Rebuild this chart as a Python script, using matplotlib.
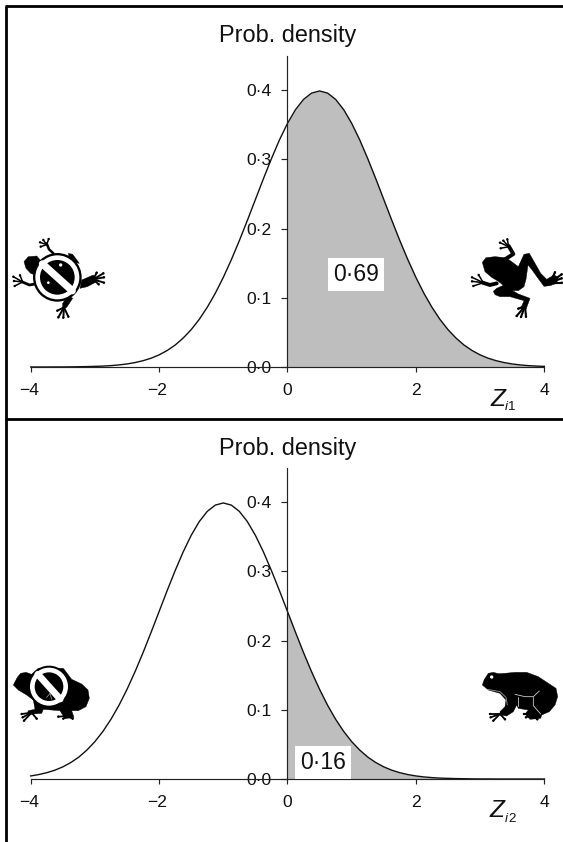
import numpy as np
import matplotlib
matplotlib.use('Agg')
import matplotlib.pyplot as plt
from matplotlib.patches import Polygon, Circle
from matplotlib.lines import Line2D
from matplotlib.transforms import Affine2D, ScaledTranslation

plt.rcParams['font.family'] = ['Liberation Sans', 'DejaVu Sans']

# ---- data
z_values = [i * 0.125 - 4 for i in range(65)]
density_z1 = [0.0000, 0.0000, 0.0000, 0.0001, 0.0001, 0.0002, 0.0004, 0.0006, 0.0009, 0.0013, 0.0020, 0.0030,
              0.0044, 0.0064, 0.0091, 0.0127, 0.0175, 0.0238, 0.0317, 0.0418, 0.0540, 0.0688, 0.0863, 0.1065, 0.1295,
              0.1550, 0.1826, 0.2119, 0.2420, 0.2721, 0.3011, 0.3282, 0.3521, 0.3719, 0.3867, 0.3958, 0.3989, 0.3958,
              0.3867, 0.3719, 0.3521, 0.3282, 0.3011, 0.2721, 0.2420, 0.2119, 0.1826, 0.1550, 0.1295, 0.1065, 0.0863,
              0.0688, 0.0540, 0.0418, 0.0317, 0.0238, 0.0175, 0.0127, 0.0091, 0.0064, 0.0044, 0.0030, 0.0020, 0.0013,
              0.0009]
density_z2 = [0.0044, 0.0064, 0.0091, 0.0127, 0.0175, 0.0238, 0.0317, 0.0418, 0.0540, 0.0688, 0.0863, 0.1065, 0.1295,
              0.1550, 0.1826, 0.2119, 0.2420, 0.2721, 0.3011, 0.3282, 0.3521, 0.3719, 0.3867, 0.3958, 0.3989, 0.3958,
              0.3867, 0.3719, 0.3521, 0.3282, 0.3011, 0.2721, 0.2420, 0.2119, 0.1826, 0.1550, 0.1295, 0.1065, 0.0863,
              0.0688, 0.0540, 0.0418, 0.0317, 0.0238, 0.0175, 0.0127, 0.0091, 0.0064, 0.0044, 0.0030, 0.0020, 0.0013,
              0.0009, 0.0006, 0.0004, 0.0002, 0.0001, 0.0001, 0.0000, 0.0000, 0.0000, 0.0000, 0.0000, 0.0000, 0.0000]
x_ticks = [-4, -2, 0, 2, 4]
x_tick_labels = ['\u22124', '\u22122', '0', '2', '4']
y_ticks = [0.0, 0.1, 0.2, 0.3, 0.4]
y_tick_labels = ['0\u00b70', '0\u00b71', '0\u00b72', '0\u00b73', '0\u00b74']
shaded_areas = ['0\u00b769', '0\u00b716']
y_axis_title = 'Prob. density'
GREY = '#bebebe'

W, H = 563, 842
fig = plt.figure(figsize=(W / 100, H / 100), dpi=100, facecolor='white')
px = Affine2D().scale(1, -1).translate(0, H)   # pixel coordinates, y down


def make_panel(density, y_zero_px):
    left, right, top = 30.7, 544.3, y_zero_px - 311
    ax = fig.add_axes([left / W, (H - y_zero_px) / H, (right - left) / W, (y_zero_px - top) / H])
    ax.patch.set_alpha(0)
    ax.set_xlim(-4, 4)
    ax.set_ylim(0, 311 / 692.0)
    x, y = np.array(z_values), np.array(density)
    ax.fill_between(x, 0, y, where=x >= 0, color=GREY, lw=0, zorder=1)
    ax.plot(x, y, color='#111111', lw=1.0, clip_on=False, zorder=3)
    for s in ('top', 'right'):
        ax.spines[s].set_visible(False)
    ax.spines['left'].set_position(('data', 0))
    for s in ('left', 'bottom'):
        ax.spines[s].set_linewidth(0.85)
        ax.spines[s].set_color('#222222')
        ax.spines[s].set_zorder(4)
    ax.set_xticks(x_ticks, x_tick_labels)
    ax.set_yticks(y_ticks, y_tick_labels)
    ax.tick_params(axis='x', length=3.4, width=0.85, pad=8.4, labelsize=12.6, color='#222222', labelcolor='#111111')
    ax.tick_params(axis='y', length=4.4, width=0.85, pad=7, labelsize=12.6, color='#222222', labelcolor='#111111')
    nudge = ScaledTranslation(-2 / 100, 0, fig.dpi_scale_trans)
    for lab in ax.get_xticklabels()[:2]:
        lab.set_transform(lab.get_transform() + nudge)
    return ax


make_panel(density_z1, 367)
make_panel(density_z2, 779)


def txt(x, y, s, **kw):
    kw.setdefault('color', '#111111')
    fig.text(x, y, s, transform=px, va='baseline', **kw)


txt(288, 42, y_axis_title, size=16.9, ha='center')
txt(288, 455, y_axis_title, size=16.9, ha='center')
txt(490.5, 406, 'Z', size=17.6, style='italic')
txt(505, 410, 'i', size=9.6, style='italic')
txt(508.2, 410, '1', size=9.6)
txt(489.5, 817, 'Z', size=17.6, style='italic')
txt(505, 822, 'i', size=9.6, style='italic')
txt(508.2, 822, '2', size=9.6)
bb = dict(fc='white', ec='none', pad=3.4)
txt(356, 281, shaded_areas[0], size=16.5, ha='center', bbox=bb, zorder=6)
txt(323, 769, shaded_areas[1], size=16.5, ha='center', bbox=bb, zorder=6)

# outer frame
for xs, ys in [((6, 6), (6, H)), ((5, W), (6, 6)), ((5, W), (419, 419))]:
    fig.add_artist(Line2D(xs, ys, transform=px, color='black', lw=2.0, solid_capstyle='butt'))


# ---- animal icons, traced in zoom coordinates (3x crop, with its origin)
def Z(org, pts):
    return [(org[0] + a / 3, org[1] + b / 3) for a, b in pts]


def poly(org, pts, color='black', z=5):
    fig.add_artist(Polygon(Z(org, pts), closed=True, fc=color, ec=color, lw=0.3, transform=px, zorder=z))


def line(org, pts, lw, color='black', z=5):
    p = Z(org, pts)
    fig.add_artist(Line2D([q[0] for q in p], [q[1] for q in p], transform=px, color=color, lw=lw,
                          solid_capstyle='round', solid_joinstyle='round', zorder=z))


def disc(org, c, r, color, z=6):
    fig.add_artist(Circle(Z(org, [c])[0], r / 3, fc=color, ec='none', transform=px, zorder=z))


def foot(org, heel, tips, lw=1.1):
    for t in tips:
        line(org, [heel, t], lw)
        disc(org, t, 3.6, 'black', 5)


def no_sign(org, c, r_out, r_white, r_in, half_bar, angle, bar_pt):
    disc(org, c, r_out, 'black', 6)
    disc(org, c, r_white, 'white', 6.1)
    disc(org, c, r_in, 'black', 6.2)
    a = np.deg2rad(angle)
    dx, dy = np.cos(a) * half_bar, np.sin(a) * half_bar
    line(org, [(c[0] - dx, c[1] - dy), (c[0] + dx, c[1] + dy)], bar_pt, 'white', 6.3)


# top left: frog under prohibition sign
o = (0, 220)
line(o, [(160, 100), (147, 88), (140, 70)], 1.8)
foot(o, (140, 74), [(120, 67), (130, 60), (146, 57), (122, 80)])
poly(o, [(245, 180), (280, 165), (290, 185), (262, 200), (240, 205)])
foot(o, (280, 178), [(310, 160), (312, 172), (312, 188), (290, 158), (296, 193)], 1.4)
poly(o, [(205, 225), (218, 235), (200, 262), (188, 268), (188, 250)])
foot(o, (192, 262), [(175, 292), (190, 293), (205, 290), (172, 272)], 1.4)
line(o, [(105, 192), (88, 195), (65, 185)], 2.0)
foot(o, (68, 186), [(40, 170), (42, 183), (44, 198), (60, 166)])
poly(o, [(72, 125), (85, 110), (110, 108), (125, 125), (105, 165), (92, 160), (78, 145)])
poly(o, [(205, 100), (218, 103), (238, 130), (210, 125)])
no_sign(o, (172, 172), 73, 66, 52, 60, 42, 5.3)
disc(o, (182, 135), 5, 'white', 6.4)
disc(o, (145, 188), 4, 'white', 6.4)

# top right: frog
o = (450, 220)
poly(o, [(97, 127), (108, 113), (135, 110), (165, 113), (178, 120), (205, 140), (222, 103), (238, 100), (255, 130),
         (272, 160), (290, 178), (312, 165), (325, 172), (320, 190), (300, 197), (282, 199), (262, 172), (245, 148),
         (234, 135), (228, 178), (222, 200), (205, 212), (188, 212), (205, 222), (240, 235), (228, 268), (212, 266),
         (222, 242), (180, 230), (150, 230), (135, 224), (130, 214), (140, 205), (160, 196), (145, 184), (125, 172),
         (105, 155)])
line(o, [(165, 118), (190, 102), (176, 78)], 2.8)
foot(o, (176, 80), [(150, 68), (160, 62), (172, 58), (152, 85)])
line(o, [(140, 190), (120, 195), (98, 188)], 2.8)
foot(o, (100, 188), [(66, 172), (66, 184), (70, 198), (86, 165)])
foot(o, (225, 258), [(200, 288), (213, 291), (228, 290), (205, 266)], 1.5)
foot(o, (300, 188), [(335, 163), (335, 175), (335, 188), (315, 157)], 1.5)

# bottom left: toad under prohibition sign
o = (0, 640)
poly(o, [(40, 135), (52, 112), (62, 100), (78, 97), (95, 103), (115, 85), (190, 85), (215, 118), (245, 132), (264, 150),
         (268, 175), (258, 200), (235, 212), (215, 212), (222, 232), (195, 236), (180, 212), (130, 208), (125, 220),
         (100, 222), (80, 225), (85, 212), (105, 208), (100, 180), (80, 165), (55, 150)])
foot(o, (95, 218), [(65, 222), (68, 232), (72, 242), (110, 236)], 1.3)
foot(o, (200, 228), [(175, 230), (190, 236), (218, 236)], 1.3)
no_sign(o, (147, 140), 63, 57, 43, 50, 48, 4.9)
line(o, [(140, 172), (150, 160), (155, 178)], 0.5, '#aaaaaa', 6.4)

# bottom right: toad
o = (450, 640)
poly(o, [(97, 135), (103, 118), (115, 100), (130, 97), (145, 101), (165, 100), (195, 97), (230, 97), (265, 110),
         (295, 130), (318, 145), (323, 170), (315, 195), (298, 215), (275, 225), (272, 235), (240, 238), (225, 222),
         (235, 210), (205, 205), (200, 195), (190, 215), (170, 228), (150, 225), (150, 215), (165, 200), (168, 180),
         (150, 160), (115, 150)])
foot(o, (150, 222), [(120, 222), (122, 232), (130, 242), (165, 238)], 1.3)
foot(o, (245, 225), [(222, 222), (228, 232), (262, 238)], 1.3)
disc(o, (125, 111), 5, 'white', 5.5)
line(o, [(112, 148), (150, 155), (168, 172), (172, 195)], 0.6, '#999999', 5.6)
line(o, [(195, 163), (225, 170), (250, 170), (268, 153)], 0.6, '#cccccc', 5.6)
line(o, [(205, 170), (205, 197)], 0.6, '#cccccc', 5.6)
line(o, [(250, 172), (250, 197), (272, 222)], 0.6, '#cccccc', 5.6)

fig.savefig('out.png', dpi=100, facecolor='white')
